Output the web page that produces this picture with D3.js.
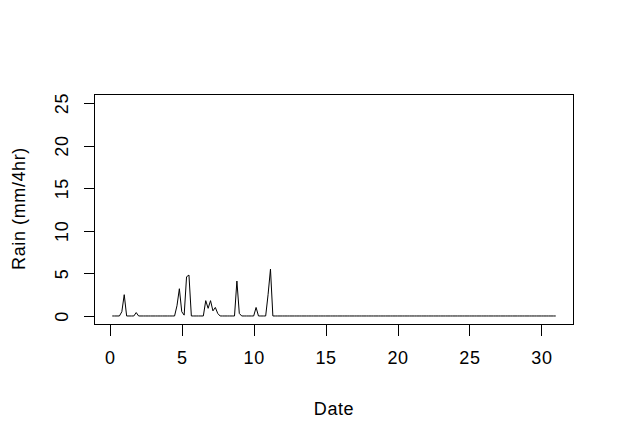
<!DOCTYPE html>
<html>
<head>
<meta charset="utf-8">
<script src="https://cdn.jsdelivr.net/npm/d3@7"></script>
<style>
  html, body { margin: 0; padding: 0; background: #fff; }
  svg { display: block; }
  text { font-family: "Liberation Sans", Arial, sans-serif; fill: #000; }
</style>
</head>
<body>
<script>
// 4-hourly rainfall (mm/4hr), 6 readings per day, day 1/6 .. 31
const rain = [
  0,0,0,0,0.5,2.5,0,0,0,0, 0.4,0,0,0,0,0,0,0,0,0, 0,0,0,0,0,0,0,1.2,3.2,0.5,
  0.1,4.6,4.8,0,0,0,0,0,0,1.8, 0.9,1.8,0.6,1.0,0.3,0,0,0,0,0, 0,0,4.1,0.3,0,0,0,0,0,0,
  1.0,0,0,0,0,2.5,5.5,0,0,0, 0,0,0,0,0,0,0,0,0,0, 0,0,0,0,0,0,0,0,0,0,
  0,0,0,0,0,0,0,0,0,0, 0,0,0,0,0,0,0,0,0,0, 0,0,0,0,0,0,0,0,0,0,
  0,0,0,0,0,0,0,0,0,0, 0,0,0,0,0,0,0,0,0,0, 0,0,0,0,0,0,0,0,0,0,
  0,0,0,0,0,0,0,0,0,0, 0,0,0,0,0,0,0,0,0,0, 0,0,0,0,0,0,0,0,0,0,
  0,0,0,0,0,0
];
const readingsPerDay = 6;
const dates = rain.map((_, i) => (i + 1) / readingsPerDay);
const xTicks = [0, 5, 10, 15, 20, 25, 30];
const yTicks = [0, 5, 10, 15, 20, 25];
const yLim = [0, 25];
const xTitle = "Date";
const yTitle = "Rain (mm/4hr)";

const W = 623, H = 442;
const FS = 18, LS = "0.6px";
const box = { left: 94.5, right: 573.5, top: 94.5, bottom: 324.5 };

const svg = d3.select("body").append("svg").attr("width", W).attr("height", H);
svg.append("rect").attr("width", W).attr("height", H).attr("fill", "#fff");

const xExt = d3.extent(dates);
const xPad = (xExt[1] - xExt[0]) * 0.04;
const x = d3.scaleLinear().domain([xExt[0] - xPad, xExt[1] + xPad]).range([box.left, box.right]);
const yPad = (yLim[1] - yLim[0]) * 0.04;
const y = d3.scaleLinear().domain([yLim[0] - yPad, yLim[1] + yPad]).range([box.bottom, box.top]);

// line
const line = d3.line().x((d, i) => x(dates[i])).y(d => y(d));
svg.append("path").datum(rain).attr("d", line)
  .attr("fill", "none").attr("stroke", "#000").attr("stroke-width", 1)
  .attr("stroke-linejoin", "round");

// box
svg.append("rect").attr("x", box.left).attr("y", box.top)
  .attr("width", box.right - box.left).attr("height", box.bottom - box.top)
  .attr("fill", "none").attr("stroke", "#000").attr("stroke-width", 1)
  .attr("shape-rendering", "crispEdges");

// x axis
const gx = svg.append("g").attr("transform", `translate(0,${box.bottom})`)
  .call(d3.axisBottom(x).tickValues(xTicks).tickSize(11).tickSizeOuter(0).tickFormat(d3.format("d")));
gx.select(".domain").remove();
gx.selectAll(".tick line").attr("stroke", "#000").attr("shape-rendering", "crispEdges");
gx.selectAll(".tick text").attr("y", 39).attr("dy", "0").attr("font-size", FS)
  .attr("letter-spacing", LS)
  .attr("font-family", "Liberation Sans, Arial, sans-serif").attr("fill", "#000");

// y axis
const gy = svg.append("g").attr("transform", `translate(${box.left},0)`)
  .call(d3.axisLeft(y).tickValues(yTicks).tickSize(11).tickSizeOuter(0).tickFormat(d3.format("d")));
gy.select(".domain").remove();
gy.selectAll(".tick line").attr("stroke", "#000").attr("shape-rendering", "crispEdges");
gy.selectAll(".tick text")
  .attr("x", 0).attr("dy", "0.35em").attr("text-anchor", "middle")
  .attr("letter-spacing", LS)
  .attr("transform", "translate(-32.5,0) rotate(-90)")
  .attr("font-size", FS).attr("font-family", "Liberation Sans, Arial, sans-serif").attr("fill", "#000");

// titles
svg.append("text").attr("x", (box.left + box.right) / 2).attr("y", 415)
  .attr("text-anchor", "middle").attr("font-size", FS).attr("letter-spacing", LS).text(xTitle);
svg.append("text")
  .attr("transform", `translate(25,${(box.top + box.bottom) / 2 - 1}) rotate(-90)`)
  .attr("text-anchor", "middle").attr("font-size", FS).attr("letter-spacing", LS).text(yTitle);
</script>
</body>
</html>
